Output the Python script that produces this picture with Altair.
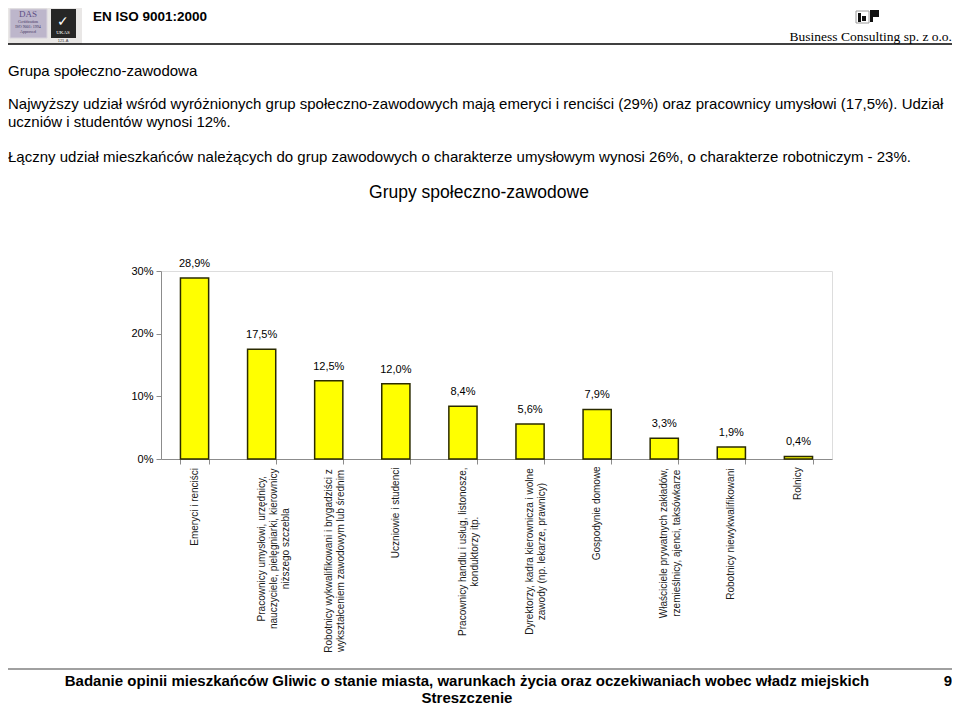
import altair as alt
import pandas as pd

# ---------------- data ----------------
categories = [
    "Emeryci i renciści",
    "Pracownicy umysłowi, urzędnicy,|nauczyciele, pielęgniarki, kierownicy|niższego szczebla",
    "Robotnicy wykwalifikowani i brygadziści z|wykształceniem zawodowym lub średnim",
    "Uczniowie i studenci",
    "Pracownicy handlu i usług, listonosze,|konduktorzy itp.",
    "Dyrektorzy, kadra kierownicza i wolne|zawody (np. lekarze, prawnicy)",
    "Gospodynie domowe",
    "Właściciele prywatnych zakładów,|rzemieślnicy, ajenci, taksówkarze",
    "Robotnicy niewykwalifikowani",
    "Rolnicy",
]
values = [28.9, 17.5, 12.5, 12.0, 8.4, 5.6, 7.9, 3.3, 1.9, 0.4]
y_ticks = [0, 10, 20, 30]

chart_title = "Grupy społeczno-zawodowe"
section_title = "Grupa społeczno-zawodowa"
para_lines = [
    "Najwyższy udział wśród wyróżnionych grup społeczno-zawodowych mają emeryci i renciści (29%) oraz pracownicy umysłowi (17,5%). Udział",
    "uczniów i studentów wynosi 12%.",
    "Łączny udział mieszkańców należących do grup zawodowych o charakterze umysłowym wynosi 26%, o charakterze robotniczym - 23%.",
]
footer_lines = [
    "Badanie opinii mieszkańców Gliwic o stanie miasta, warunkach życia oraz oczekiwaniach wobec władz miejskich",
    "Streszczenie",
]
header_left = "EN ISO 9001:2000"
header_right = "Business Consulting sp. z o.o."
page_number = "9"

# ---------------- layout ----------------
W, H = 671, 188          # plot area
OX, OY = 161, 271        # plot origin on the page
SANS = "Liberation Sans, Arial, sans-serif"
SERIF = "Liberation Serif, Times New Roman, serif"
LABEL_GAP = 8            # px between axis and rotated labels
LABEL_SIZE = 10

df = pd.DataFrame({"cat": categories, "value": values})

yscale = alt.Scale(domain=[0, 30], nice=False, zero=True)
xscale = alt.Scale(paddingInner=0.58, paddingOuter=0.29)

x_enc = alt.X(
    "cat:N", sort=categories, scale=xscale,
    axis=alt.Axis(labels=False, title=None, tickBand="extent", tickSize=5,
                  tickColor="#8c8c8c", domainColor="#8c8c8c"),
)
y_axis = alt.Axis(values=y_ticks, labelExpr="datum.value + '%'", title=None, grid=False,
                  tickSize=5, tickColor="#8c8c8c", domainColor="#8c8c8c",
                  labelFont=SANS, labelFontSize=11, labelColor="#000", labelPadding=3)

bars = alt.Chart(df).mark_bar(
    color="#FFFF00", stroke="#2b2b00", strokeWidth=1.5
).encode(
    x=x_enc,
    y=alt.Y("value:Q", scale=yscale, axis=y_axis),
)

value_labels = alt.Chart(df).transform_calculate(
    txt="replace(format(datum.value, '.1f'), '.', ',') + '%'"
).mark_text(
    font=SANS, fontSize=11, color="#000", baseline="middle", dy=-14
).encode(
    x=alt.X("cat:N", sort=categories, scale=xscale),
    y=alt.Y("value:Q", scale=yscale, axis=y_axis),
    text="txt:N",
)


def width_expr(s):
    """Approximate rendered width (em) of string expression s in a sans font."""
    def cnt(cls):
        return f"length(replace({s}, regexp('[^{cls}]', 'g'), ''))"
    narrow = cnt("ijlłtf ,.")
    mid = cnt("r()")
    wide = cnt("mwMW")
    caps = cnt("A-LN-VXYZĄĆĘŁŃÓŚŹŻ")
    return (f"(0.25*{narrow} + 0.333*{mid} + 0.8*{wide} + 0.68*{caps} + "
            f"0.54*(length({s}) - {narrow} - {mid} - {wide} - {caps}))")


cat_labels = alt.Chart(df).transform_calculate(
    lines="split(datum.cat, '|')"
).transform_calculate(
    l0="datum.lines[0]",
    l1="datum.lines.length > 1 ? datum.lines[1] : ''",
    l2="datum.lines.length > 2 ? datum.lines[2] : ''",
).transform_calculate(
    w0=width_expr("datum.l0"),
    w1=width_expr("datum.l1"),
    w2=width_expr("datum.l2"),
).transform_calculate(
    ly=f"-({LABEL_GAP} + max(datum.w0, datum.w1, datum.w2) * {LABEL_SIZE} / 2) * 30 / {H}"
).mark_text(
    font=SANS, fontSize=LABEL_SIZE, color="#1a1a1a", angle=270, align="center",
    baseline="middle", lineHeight=12.3
).encode(
    x=alt.X("cat:N", sort=categories, scale=xscale),
    y=alt.Y("ly:Q", scale=yscale, axis=y_axis),
    text="lines:N",
)

one = pd.DataFrame({"a": [0]})


def ptext(txt, px, py, size, align="left", weight="normal", font=SANS, color="#000"):
    return alt.Chart(one).mark_text(
        text=txt, font=font, fontSize=size, fontWeight=weight, align=align,
        baseline="middle", color=color
    ).encode(x=alt.value(px - OX), y=alt.value(py - OY))


def prect(x1, y1, x2, y2, fill, stroke=None, sw=0):
    kw = dict(fill=fill)
    if stroke:
        kw.update(stroke=stroke, strokeWidth=sw)
    return alt.Chart(one).mark_rect(**kw).encode(
        x=alt.value(x1 - OX), x2=alt.value(x2 - OX),
        y=alt.value(y1 - OY), y2=alt.value(y2 - OY))


def prule(x1, x2, y, color, sw):
    return alt.Chart(one).mark_rule(color=color, strokeWidth=sw).encode(
        x=alt.value(x1 - OX), x2=alt.value(x2 - OX), y=alt.value(y - OY))


decor = [
    # logos
    prect(8, 8, 82, 44, "#e9e7e6"),
    prect(10, 9, 47, 38, "#bdb6cb", "#d8d4dc", 1),
    ptext("DAS", 28, 14, 9, "center", font=SERIF, color="#5e4f86"),
    ptext("Certification", 28, 22, 4, "center", font=SERIF, color="#3d3560"),
    ptext("ISO 9001: 1994", 28, 27, 4, "center", font=SERIF, color="#3d3560"),
    ptext("Approved", 28, 32, 4, "center", font=SERIF, color="#3d3560"),
    prect(51, 9, 76, 38, "#262626"),
    ptext("✓", 63, 22, 14, "center", color="#ffffff"),
    ptext("UKAS", 63, 32, 5, "center", font=SERIF, color="#ffffff"),
    ptext("121-A", 63, 41, 4, "center", color="#444"),
    ptext(header_left, 93, 17, 13.5, weight="bold"),
    # BC logo
    prect(856, 11, 869, 23, "#ffffff", "#9a9a9a", 1),
    prect(858, 13, 861, 22, "#111"),
    prect(862, 16, 866, 21, "#111"),
    prect(870, 10, 873, 22, "#111"),
    prect(873, 10, 879, 17, "#111"),
    ptext(header_right, 952, 37, 13.5, "right", font=SERIF),
    prule(8, 952, 44, "#000", 1.5),
    # text
    ptext(section_title, 8, 71, 15),
    ptext(para_lines[0], 8, 104, 15),
    ptext(para_lines[1], 8, 122, 15),
    ptext(para_lines[2], 8, 157, 15),
    ptext(chart_title, 479, 193, 17.5, "center"),
    # footer
    prule(8, 952, 669, "#808080", 1.5),
    ptext(footer_lines[0], 467, 681, 15, "center", weight="bold"),
    ptext(footer_lines[1], 467, 698, 15, "center", weight="bold"),
    ptext(page_number, 952, 681, 15, "right", weight="bold"),
]

chart = alt.layer(bars, value_labels, cat_labels, *decor).properties(
    width=W, height=H,
    autosize=alt.AutoSizeParams(type="none"),
    padding={"left": OX - 8, "top": OY - 8, "right": 952 - (OX + W), "bottom": 706 - (OY + H)},
).configure_view(
    stroke="#c4c4c4", strokeWidth=1
).configure(background="#ffffff")

chart.save("out.html", embed_options={"renderer": "svg", "actions": False})
